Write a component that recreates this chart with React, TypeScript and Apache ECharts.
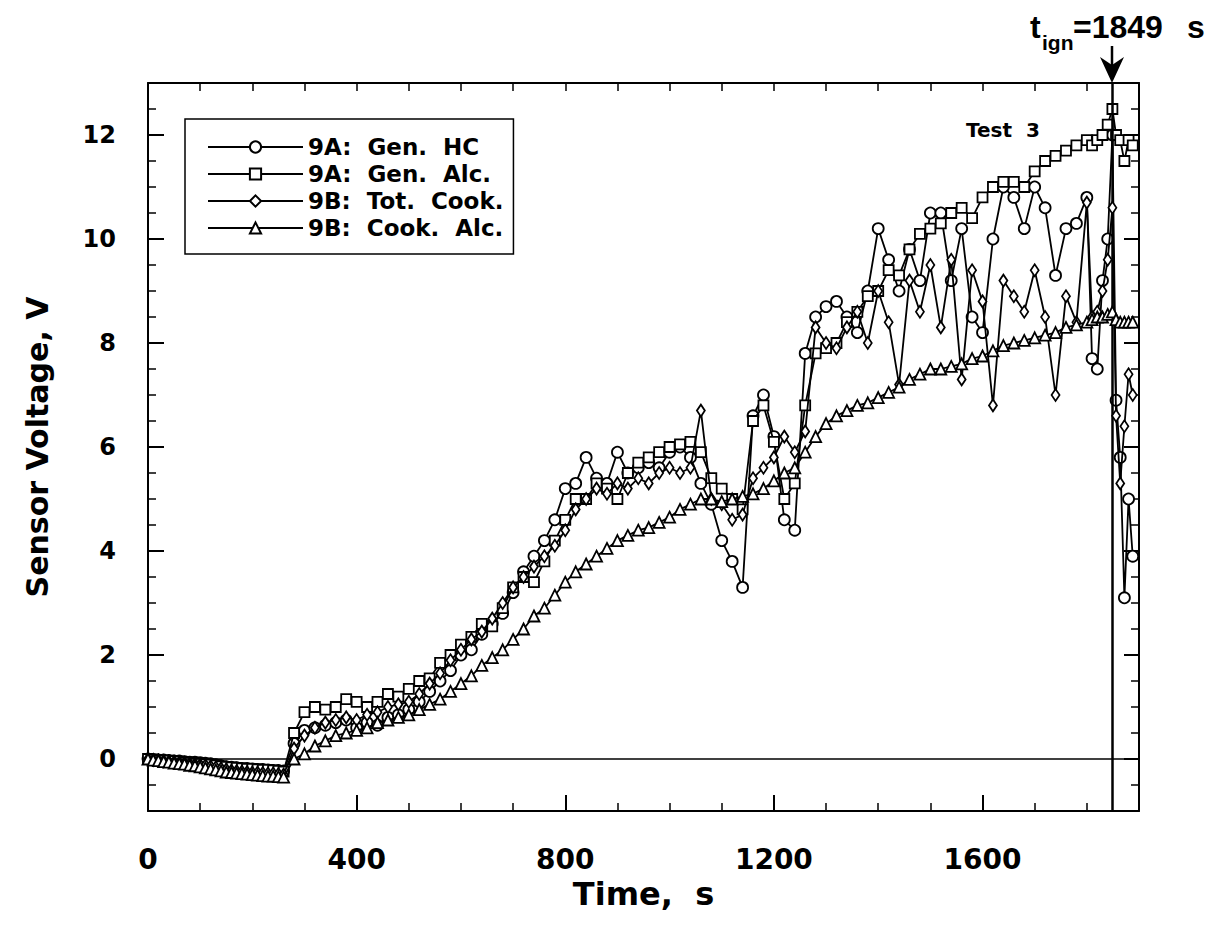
import React, { useEffect, useRef } from "react";
import * as echarts from "echarts";

// Time stamps (s)
const times = [
  0, 10, 20, 30, 40, 50, 60, 70, 80, 90,
  100, 110, 120, 130, 140, 150, 160, 170, 180, 190,
  200, 210, 220, 230, 240, 250, 260,
  280, 300, 320, 340, 360, 380,
  400, 420, 440, 460, 480, 500, 520, 540, 560, 580,
  600, 620, 640, 660, 680, 700, 720, 740, 760, 780,
  800, 820, 840, 860, 880, 900, 920, 940, 960, 980,
  1000, 1020, 1040, 1060, 1080, 1100, 1120, 1140, 1160, 1180,
  1200, 1220, 1240, 1260, 1280, 1300, 1320, 1340, 1360, 1380,
  1400, 1420, 1440, 1460, 1480, 1500, 1520, 1540, 1560, 1580,
  1600, 1620, 1640, 1660, 1680, 1700, 1720, 1740, 1760, 1780,
  1800, 1810, 1820, 1830, 1840, 1849, 1856, 1864, 1872, 1880,
  1888,
];

// 9A: Gen. HC (circles)
const genHC = [
  0, -0.01, -0.02, -0.02, -0.03, -0.04, -0.04, -0.05, -0.06, -0.06,
  -0.07, -0.08, -0.09, -0.11, -0.13, -0.15, -0.16, -0.17, -0.18, -0.18,
  -0.19, -0.2, -0.2, -0.21, -0.22, -0.22, -0.23,
  0.3, 0.55, 0.6, 0.65, 0.7, 0.75,
  0.6, 0.7, 0.65, 0.8, 0.85, 0.95, 1.1, 1.3, 1.5, 1.7,
  2.0, 2.1, 2.4, 2.6, 2.8, 3.2, 3.6, 3.9, 4.2, 4.6,
  5.2, 5.3, 5.8, 5.4, 5.3, 5.9, 5.5, 5.6, 5.7, 5.6,
  5.9, 6.0, 5.8, 5.3, 4.9, 4.2, 3.8, 3.3, 6.6, 7.0,
  6.2, 4.6, 4.4, 7.8, 8.5, 8.7, 8.8, 8.5, 8.2, 9.0,
  10.2, 9.6, 9.0, 9.8, 9.2, 10.5, 10.5, 9.2, 10.2, 8.5,
  8.2, 10.0, 11.0, 10.8, 10.2, 11.0, 10.6, 9.3, 10.2, 10.3,
  10.8, 7.7, 7.5, 9.2, 10.0, 12.0, 6.9, 5.8, 3.1, 5.0,
  3.9,
];

// 9A: Gen. Alc. (squares)
const genAlc = [
  0, -0.01, -0.02, -0.03, -0.03, -0.04, -0.05, -0.06, -0.07, -0.08,
  -0.09, -0.1, -0.11, -0.12, -0.14, -0.15, -0.16, -0.17, -0.18, -0.19,
  -0.19, -0.2, -0.21, -0.21, -0.22, -0.23, -0.24,
  0.5, 0.9, 1.0, 0.95, 1.0, 1.15,
  1.1, 1.0, 1.1, 1.25, 1.2, 1.35, 1.5, 1.55, 1.85, 2.0,
  2.2, 2.35, 2.6, 2.55, 2.9, 3.3, 3.5, 3.4, 3.8, 4.2,
  4.6, 5.0, 5.0, 5.3, 5.2, 5.0, 5.5, 5.7, 5.8, 5.9,
  6.0, 6.05, 6.1, 5.9, 5.4, 5.2, 5.0, 4.8, 6.5, 6.8,
  6.1, 5.0, 5.3, 6.8, 7.8, 7.9, 8.0, 8.4, 8.6, 8.9,
  9.0, 9.4, 9.3, 9.8, 10.1, 10.2, 10.3, 10.5, 10.6, 10.4,
  10.8, 11.0, 11.1, 11.1, 11.0, 11.3, 11.5, 11.6, 11.7, 11.8,
  11.9, 11.8, 11.9, 12.0, 12.2, 12.5, 12.0, 11.9, 11.5, 11.9,
  11.8,
];

// 9B: Tot. Cook. (diamonds)
const totCook = [
  0, -0.02, -0.03, -0.04, -0.05, -0.06, -0.07, -0.08, -0.09, -0.1,
  -0.11, -0.12, -0.14, -0.16, -0.18, -0.2, -0.22, -0.23, -0.24, -0.25,
  -0.26, -0.26, -0.27, -0.28, -0.28, -0.29, -0.3,
  0.2, 0.45, 0.6, 0.7, 0.75, 0.8,
  0.75, 0.85, 0.9, 1.0, 1.05, 1.1, 1.25, 1.45, 1.65, 1.9,
  2.1, 2.3, 2.45, 2.7, 3.0, 3.3, 3.5, 3.7, 3.9, 4.1,
  4.4, 4.8, 5.0, 5.2, 5.1, 5.3, 5.2, 5.4, 5.3, 5.5,
  5.6, 5.5, 5.6, 6.7, 5.0, 4.9, 4.6, 4.7, 5.4, 5.6,
  5.8, 6.2, 5.9, 6.3, 8.3, 8.0, 7.9, 8.3, 8.6, 8.0,
  9.0, 8.4, 7.2, 9.2, 8.6, 9.5, 8.3, 9.6, 7.3, 9.4,
  8.8, 6.8, 9.2, 8.9, 8.6, 9.4, 8.5, 7.0, 8.9, 8.4,
  10.7, 8.5, 8.6, 9.0, 9.6, 10.6, 6.6, 5.3, 6.4, 7.4,
  7.0,
];

// 9B: Cook. Alc. (triangles)
const cookAlc = [
  0, -0.02, -0.03, -0.05, -0.06, -0.08, -0.09, -0.1, -0.12, -0.13,
  -0.15, -0.17, -0.19, -0.21, -0.23, -0.25, -0.26, -0.27, -0.28, -0.29,
  -0.3, -0.31, -0.32, -0.33, -0.33, -0.34, -0.35,
  0.0, 0.1, 0.25, 0.35, 0.45, 0.5,
  0.55, 0.6, 0.7, 0.75, 0.8, 0.85, 0.95, 1.05, 1.15, 1.3,
  1.45, 1.6, 1.8, 1.95, 2.1, 2.3, 2.5, 2.75, 2.9, 3.15,
  3.4, 3.6, 3.75, 3.9, 4.05, 4.2, 4.3, 4.4, 4.45, 4.55,
  4.65, 4.8, 4.9, 5.0, 5.0, 4.95, 5.0, 5.05, 5.1, 5.2,
  5.35, 5.5, 5.6, 5.9, 6.2, 6.45, 6.6, 6.7, 6.8, 6.85,
  6.95, 7.05, 7.15, 7.3, 7.4, 7.5, 7.5, 7.55, 7.6, 7.7,
  7.75, 7.85, 7.95, 8.0, 8.05, 8.1, 8.15, 8.2, 8.3, 8.35,
  8.4, 8.45, 8.5, 8.5, 8.55, 8.6, 8.45, 8.4, 8.4, 8.4,
  8.4,
];

const seriesNames = ["9A:  Gen.  HC", "9A:  Gen.  Alc.", "9B:  Tot.  Cook.", "9B:  Cook.  Alc."];
const seriesValues = [genHC, genAlc, totCook, cookAlc];
const seriesSymbols = ["circle", "rect", "diamond", "triangle"];
const ignitionTime = 1849;
const xRange = [0, 1900];
const yRange = [-1, 13];

const FONT = "DejaVu Sans";

export default function App() {
  const ref = useRef<HTMLDivElement>(null);

  useEffect(() => {
    if (!ref.current) return;
    const chart = echarts.init(ref.current, null, { renderer: "svg" });

    const gridLeft = 148;
    const gridRight = 88;
    const gridTop = 83;
    const gridBottom = 136;
    const unitPx = (947 - gridTop - gridBottom) / (yRange[1] - yRange[0]);

    const symbolSizes: any[] = [11, 10, [8, 12], 11];

    const series: any[] = seriesNames.map((name, k) => ({
      name,
      type: "line",
      xAxisIndex: 0,
      yAxisIndex: 0,
      data: times.map((t, i) => [t, seriesValues[k][i]]),
      symbol: seriesSymbols[k],
      symbolSize: symbolSizes[k],
      showSymbol: true,
      lineStyle: { color: "#000", width: 1.8 },
      itemStyle: { color: "#fff", borderColor: "#000", borderWidth: 1.8 },
      emphasis: { disabled: true },
      z: 3 + k,
    }));

    series.push({
      name: "refs",
      type: "line",
      xAxisIndex: 0,
      yAxisIndex: 0,
      data: [],
      silent: true,
      markLine: {
        symbol: "none",
        silent: true,
        animation: false,
        label: { show: false },
        lineStyle: { color: "#000", type: "solid", width: 2.5 },
        data: [{ xAxis: ignitionTime }, { yAxis: 0, lineStyle: { width: 1.5 } }],
      },
    });

    const labelStyle = { color: "#000", fontFamily: FONT, fontWeight: "bold" as const };

    const option: any = {
      animation: false,
      backgroundColor: "#fff",
      grid: [
        { left: gridLeft, right: gridRight, top: gridTop, bottom: gridBottom },
        { left: gridLeft, right: gridRight, top: gridTop, bottom: gridBottom + unitPx },
      ],
      legend: {
        data: seriesNames,
        orient: "vertical",
        left: 185,
        top: 119,
        padding: [16, 10, 14, 22],
        itemWidth: 95,
        itemHeight: 14,
        itemGap: 3,
        borderColor: "#000",
        borderWidth: 1.5,
        selectedMode: false,
        textStyle: { ...labelStyle, fontSize: 23, lineHeight: 24 },
      },
      xAxis: [
        {
          type: "value",
          gridIndex: 0,
          position: "bottom",
          min: xRange[0],
          max: xRange[1],
          interval: 400,
          name: "Time,  s",
          nameLocation: "middle",
          nameGap: 46,
          nameTextStyle: { ...labelStyle, fontSize: 32 },
          axisLine: { show: true, onZero: false, lineStyle: { color: "#000", width: 2 } },
          axisTick: { show: true, inside: true, length: 16, lineStyle: { color: "#000", width: 2 } },
          axisLabel: {
            ...labelStyle,
            fontSize: 28,
            margin: 34,
            showMaxLabel: false,
            formatter: (v: number) => String(v),
          },
          splitLine: { show: false },
        },
        {
          type: "value",
          gridIndex: 0,
          position: "bottom",
          min: xRange[0],
          max: xRange[1],
          interval: 100,
          axisLine: { show: false, onZero: false },
          axisTick: { show: true, inside: true, length: 8, lineStyle: { color: "#000", width: 1.5 } },
          axisLabel: { show: false },
          splitLine: { show: false },
        },
        {
          type: "value",
          gridIndex: 0,
          position: "top",
          min: xRange[0],
          max: xRange[1],
          interval: 100,
          axisLine: { show: true, onZero: false, lineStyle: { color: "#000", width: 2 } },
          axisTick: { show: true, inside: true, length: 8, lineStyle: { color: "#000", width: 1.5 } },
          axisLabel: { show: false },
          splitLine: { show: false },
        },
        {
          type: "value",
          gridIndex: 1,
          show: false,
          min: xRange[0],
          max: xRange[1],
        },
      ],
      yAxis: [
        {
          type: "value",
          gridIndex: 0,
          position: "left",
          min: yRange[0],
          max: yRange[1],
          interval: 0.5,
          name: "Sensor Voltage, V",
          nameLocation: "middle",
          nameGap: 96,
          nameRotate: 90,
          nameTextStyle: { ...labelStyle, fontSize: 30 },
          axisLine: { show: true, onZero: false, lineStyle: { color: "#000", width: 2 } },
          axisTick: { show: true, inside: true, length: 8, lineStyle: { color: "#000", width: 1.5 } },
          axisLabel: { show: false },
          splitLine: { show: false },
        },
        {
          type: "value",
          gridIndex: 0,
          position: "right",
          min: yRange[0],
          max: yRange[1],
          interval: 0.5,
          axisLine: { show: true, onZero: false, lineStyle: { color: "#000", width: 2 } },
          axisTick: { show: true, inside: true, length: 8, lineStyle: { color: "#000", width: 1.5 } },
          axisLabel: { show: false },
          splitLine: { show: false },
        },
        {
          type: "value",
          gridIndex: 1,
          position: "left",
          min: 0,
          max: yRange[1],
          interval: 2,
          axisLine: { show: false, onZero: false },
          axisTick: { show: true, inside: true, length: 16, lineStyle: { color: "#000", width: 2 } },
          axisLabel: { ...labelStyle, fontSize: 24, margin: 32, showMaxLabel: false },
          splitLine: { show: false },
        },
        {
          type: "value",
          gridIndex: 1,
          position: "right",
          min: 0,
          max: yRange[1],
          interval: 2,
          axisLine: { show: false, onZero: false },
          axisTick: { show: true, inside: true, length: 15, lineStyle: { color: "#000", width: 2 } },
          axisLabel: { show: false },
          splitLine: { show: false },
        },
      ],
      series,
    };

    chart.setOption(option);

    const ix = Math.round(chart.convertToPixel({ xAxisIndex: 0 }, ignitionTime) as number);
    const yTop = chart.convertToPixel({ yAxisIndex: 0 }, yRange[1]) as number;
    const annFont = "Liberation Sans";

    chart.setOption({
      graphic: [
        {
          type: "text",
          left: 966,
          top: 120,
          style: { text: "Test  3", fontFamily: FONT, fontWeight: "bold", fontSize: 20, fill: "#000" },
        },
        {
          type: "line",
          shape: { x1: ix, y1: 46, x2: ix, y2: yTop - 10 },
          style: { stroke: "#000", lineWidth: 2.5 },
        },
        {
          type: "polygon",
          shape: { points: [[ix, yTop], [ix - 12, yTop - 26], [ix, yTop - 18], [ix + 12, yTop - 26]] },
          style: { fill: "#000" },
        },
        {
          type: "text",
          x: ix - 82,
          y: 11,
          style: { text: "t", fontFamily: annFont, fontWeight: "bold", fontSize: 32, fill: "#000" },
        },
        {
          type: "text",
          x: ix - 70,
          y: 32,
          style: { text: "ign", fontFamily: annFont, fontWeight: "bold", fontSize: 21, fill: "#000" },
        },
        {
          type: "text",
          x: ix - 39,
          y: 11,
          style: { text: "=1849", fontFamily: annFont, fontWeight: "bold", fontSize: 32, fill: "#000" },
        },
        {
          type: "text",
          x: ix + 75,
          y: 11,
          style: { text: "s", fontFamily: annFont, fontWeight: "bold", fontSize: 32, fill: "#000" },
        },
      ],
    });

    return () => chart.dispose();
  }, []);

  return (
    <div
      ref={ref}
      style={{ position: "fixed", left: 0, top: 0, width: 1227, height: 947, background: "#fff" }}
    />
  );
}
